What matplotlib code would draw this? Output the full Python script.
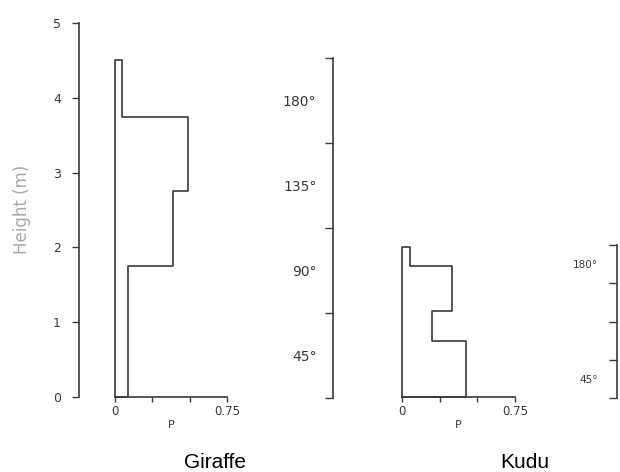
import matplotlib
matplotlib.use("Agg")
import matplotlib.pyplot as plt
import numpy as np

# height bins (m) and proportion of feeding P in each bin
giraffe_edges = [0, 1.75, 2.75, 3.75, 4.5]
giraffe_p = [0.09, 0.39, 0.49, 0.05]
kudu_edges = [0, 0.75, 1.15, 1.75, 2.0]
kudu_p = [0.425, 0.20, 0.33, 0.05]

height_ticks = [0, 1, 2, 3, 4, 5]
p_ticks = [0, 0.25, 0.5, 0.75]
p_labels = ["0", "", "", "0.75"]
angle_ticks = [0, 45, 90, 135, 180]
angle_labels = ["45°", "90°", "135°", "180°"]
kudu_angle_labels = ["45°", "", "", "180°"]

W, H = 620, 472
INK = "#3a3a3a"


def outline(edges, p):
    xs, ys = [0], [0]
    for i, v in enumerate(p):
        xs += [v, v]
        ys += [edges[i], edges[i + 1]]
    xs += [0, 0]
    ys += [edges[-1], 0]
    return xs, ys


def fr(x0, y_bot, x1, y_top):
    return [x0 / W, 1 - y_bot / H, (x1 - x0) / W, (y_bot - y_top) / H]


def profile_axes(fig, rect, edges, p, show_y):
    ax = fig.add_axes(rect)
    ax.set_xlim(0, 0.75)
    ax.set_ylim(0, 5)
    xs, ys = outline(edges, p)
    ax.plot(xs, ys, color=INK, lw=1.2, clip_on=False)
    for s in ["top", "right"]:
        ax.spines[s].set_visible(False)
    ax.spines["bottom"].set_color(INK)
    ax.spines["bottom"].set_linewidth(1.2)
    ax.set_xticks(p_ticks)
    ax.set_xticklabels(p_labels)
    ax.tick_params(axis="x", direction="out", length=3.5, width=1, color=INK,
                   labelsize=8.5, labelcolor=INK, pad=2)
    ax.set_xlabel("P", fontsize=8, color=INK, labelpad=2)
    if show_y:
        ax.spines["left"].set_position(("outward", 26))
        ax.spines["left"].set_color(INK)
        ax.spines["left"].set_linewidth(1.2)
        ax.set_yticks(height_ticks)
        ax.tick_params(axis="y", direction="out", length=5, width=1, color=INK,
                       labelsize=9, labelcolor=INK, pad=8)
    else:
        ax.spines["left"].set_visible(False)
        ax.set_yticks([])
    ax.patch.set_alpha(0)
    return ax


def bracket_axes(fig, rect, labels, size, pad):
    ax = fig.add_axes(rect)
    ax.set_ylim(0, 180)
    ax.set_xticks([])
    for s in ["top", "right", "bottom"]:
        ax.spines[s].set_visible(False)
    ax.spines["left"].set_color(INK)
    ax.spines["left"].set_linewidth(1.2)
    ax.set_yticks(angle_ticks)
    ax.set_yticklabels([])
    mids = [(a + b) / 2 for a, b in zip(angle_ticks[:-1], angle_ticks[1:])]
    ax.set_yticks(mids, minor=True)
    ax.set_yticklabels(labels, minor=True)
    ax.tick_params(axis="y", which="major", direction="out", length=6, width=1, color=INK)
    ax.tick_params(axis="y", which="minor", length=0, labelsize=size,
                   labelcolor=INK, pad=pad)
    ax.patch.set_alpha(0)
    return ax


fig = plt.figure(figsize=(6.2, 4.72), dpi=100)

profile_axes(fig, fr(115, 397, 227, 23), giraffe_edges, giraffe_p, True)
profile_axes(fig, fr(402, 397, 515, 23), kudu_edges, kudu_p, False)

bracket_axes(fig, fr(333, 398, 334, 58), angle_labels, 10, 12)
bracket_axes(fig, fr(617, 398, 618, 245), kudu_angle_labels, 7.5, 14)

fig.text(22 / W, 1 - 209 / H, "Height (m)", rotation=90, ha="center", va="center",
         fontsize=12, color="#a8a8a8")
fig.text(215 / W, 1 - 462 / H, "Giraffe", ha="center", va="center",
         fontsize=15, family="Liberation Sans", color="black")
fig.text(525 / W, 1 - 462 / H, "Kudu", ha="center", va="center",
         fontsize=15, family="Liberation Sans", color="black")

fig.savefig("out.png", dpi=100)
